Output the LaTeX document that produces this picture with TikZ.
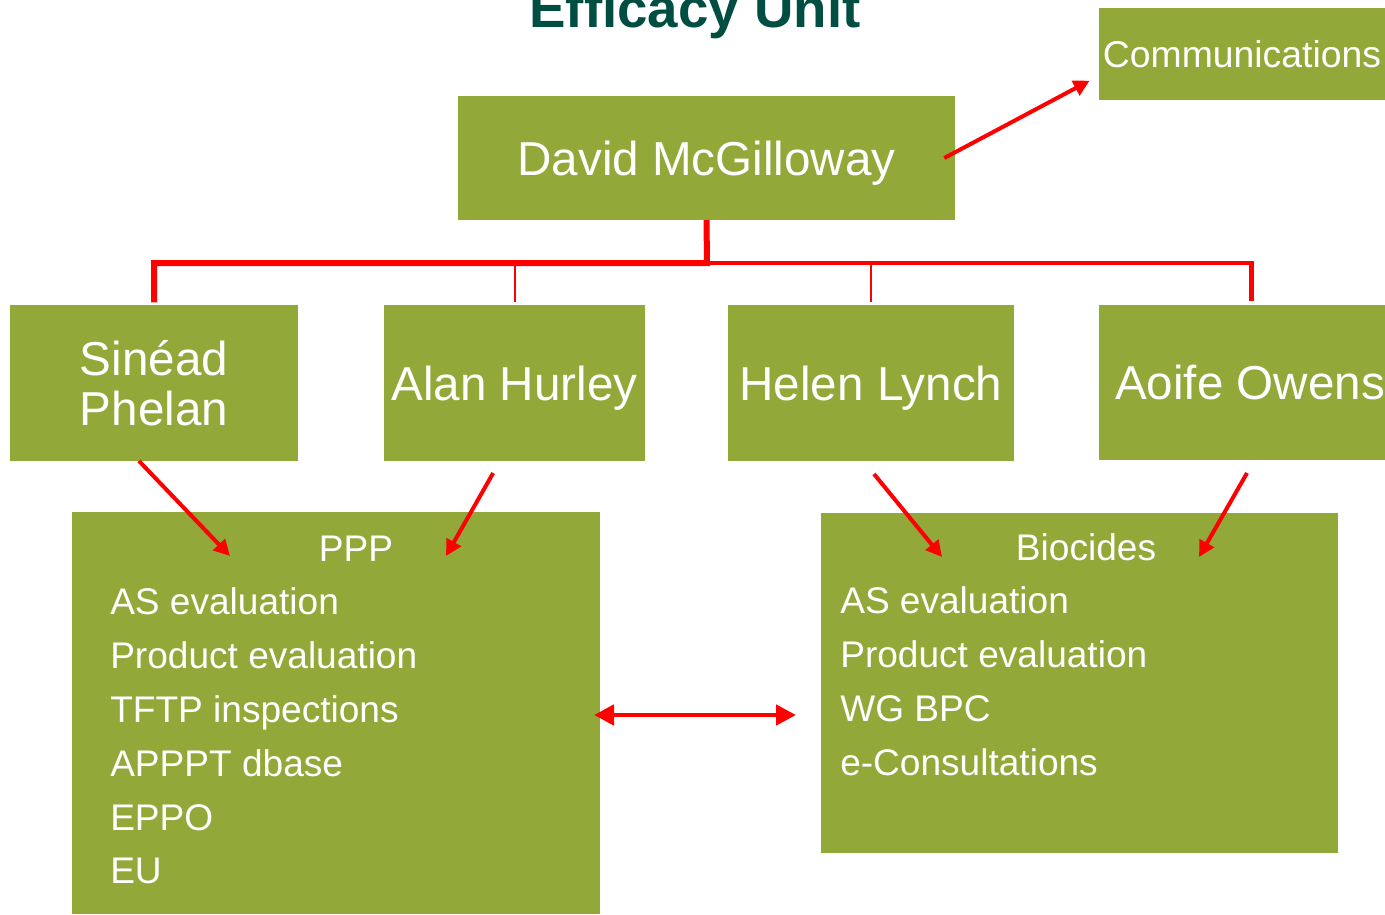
\documentclass[tikz,border=0pt]{standalone}
\usepackage{fontspec}
\setmainfont{Liberation Sans}
\usetikzlibrary{arrows.meta}
\definecolor{olive}{RGB}{146,168,57}
\definecolor{deepteal}{RGB}{0,78,66}
\begin{document}
\begin{tikzpicture}[x=0.75pt, y=-0.75pt,
  box/.style={fill=olive, text=white, inner sep=0pt, outer sep=0pt},
  person/.style={box, font=\fontsize{35.7}{37.5}\selectfont, text height=25.6pt, text depth=0pt, align=center},
  item/.style={text=white, anchor=base west, inner sep=0pt, font=\fontsize{27.8}{30}\selectfont},
  head/.style={item, anchor=base},
  tree/.style={red, line width=4.5pt},
  arr/.style={red, line width=3pt, -{Triangle[length=12pt,width=12pt]}}]
\useasboundingbox (0,0) rectangle (1385,914);
% title
\node[anchor=base, text=deepteal, font=\fontsize{41}{44}\selectfont\bfseries] (title) at (695,27) {Efficacy Unit};
% head and side box
\node[person, minimum width=372.75pt, minimum height=93pt] (david) at (706.5,158) {David McGilloway};
\node[box, minimum width=214.5pt, minimum height=69pt, text height=19.9pt, text depth=0pt, font=\fontsize{28}{30}\selectfont] (comm) at (1242,54) {Communications};
% staff
\node[person, text height=63.1pt, minimum width=216pt, minimum height=117pt] (sinead) at (154,383) {Sinéad\\Phelan};
\node[person, minimum width=195.75pt, minimum height=117pt] (alan) at (514.5,383) {Alan Hurley};
\node[person, minimum width=214.5pt, minimum height=117pt] (helen) at (871,383) {Helen Lynch};
\node[person, minimum width=214.5pt, minimum height=116.25pt] (aoife) at (1242,382.5) {\hspace*{12pt}Aoife Owens};
% work areas
\node[box, minimum width=396pt, minimum height=301.5pt] (ppp) at (336,713) {};
\node[box, minimum width=387.75pt, minimum height=255pt] (bio) at (1079.5,683) {};
\node[head] (ppptitle) at (356,561) {PPP};
\node[head] (biotitle) at (1086,560) {Biocides};
\foreach \txt [count=\i] in {AS evaluation,Product evaluation,TFTP inspections,APPPT dbase,EPPO,EU}
  \node[item] (ppp\i) at (110,{561+53.8*\i}) {\txt};
\foreach \txt [count=\i] in {AS evaluation,Product evaluation,WG BPC,e-Consultations}
  \node[item] (bio\i) at (840,{560+53.8*\i}) {\txt};
% tree
\coordinate (bus) at (707,263);
\draw[tree] (david.south) -- (bus) -| ([yshift=2pt]sinead.north);
\draw[tree, line width=3.4pt] (bus) -| ([xshift=7pt,yshift=3pt]aoife.north);
\draw[red, line width=1.5pt] ([yshift=2pt]alan.north) -- (alan.north |- bus);
\draw[red, line width=1.5pt] ([yshift=2pt]helen.north) -- (helen.north |- bus);
% arrows
\draw[arr] ([xshift=-8pt]david.east) -- ([xshift=-7pt,yshift=-20pt]comm.west);
\draw[arr] ([xshift=-11.25pt]sinead.south) -- ([xshift=118.5pt,yshift=-33pt]ppp.north west);
\draw[arr] ([xshift=-16pt,yshift=-9pt]alan.south) -- ([xshift=-115.5pt,yshift=-33pt]ppp.north east);
\draw[arr] ([xshift=2.25pt,yshift=-9.75pt]helen.south) -- ([xshift=90.75pt,yshift=-33pt]bio.north west);
\draw[arr] ([xshift=3.75pt,yshift=-9.75pt]aoife.south) -- ([xshift=-104.25pt,yshift=-33pt]bio.north east);
\draw[red, line width=3.5pt, {Triangle[length=15pt,width=15pt]}-{Triangle[length=15pt,width=15pt]}] ([xshift=-4.5pt,yshift=-1.5pt]ppp.east) -- ([xshift=-18.75pt,yshift=-1.5pt]ppp.east -| bio.west);
\end{tikzpicture}
\end{document}
